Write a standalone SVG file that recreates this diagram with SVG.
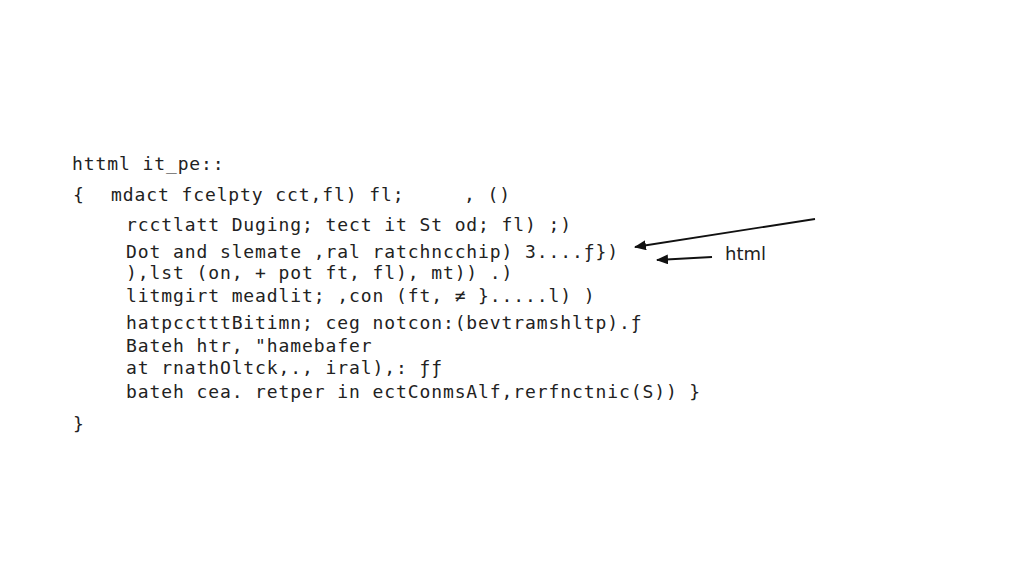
<svg xmlns="http://www.w3.org/2000/svg" width="1024" height="585" viewBox="0 0 1024 585">
<style>
.c{font-family:"DejaVu Sans Mono","Liberation Mono",monospace;font-size:18px;fill:#222;letter-spacing:0.9px}
.l{font-family:"DejaVu Sans","Liberation Sans",sans-serif;font-size:18px;fill:#222}
.a{stroke:#111;stroke-width:1.8;fill:none;marker-end:url(#ah)}
</style>
<defs><marker id="ah" markerWidth="12" markerHeight="10" refX="11" refY="5" orient="auto" markerUnits="userSpaceOnUse"><path d="M0,0 L12,5 L0,10 Z" fill="#111"/></marker></defs>
<rect width="1024" height="585" fill="#fff"/>
<g id="code">
<text class="c" x="72" y="170">httml it_pe::</text>
<text class="c" x="73" y="201">{</text>
<text class="c" x="111" y="201">mdact fcelpty cct,fl) fl;</text>
<text class="c" x="464" y="201">, ()</text>
<text class="c" x="126" y="231">rcctlatt Duging; tect it St od; fl)  ;)</text>
<text class="c" x="126" y="258">Dot and slemate ,ral ratchncchip)  3....ƒ})</text>
<text class="c" x="126" y="279">),lst (on, + pot ft, fl), mt))    .)</text>
<text class="c" x="126" y="302">litmgirt meadlit; ,con (ft,  ≠ }.....l) )</text>
<text class="c" x="126" y="329">hatpcctttBitimn; ceg notcon:(bevtramshltp).ƒ</text>
<text class="c" x="126" y="352">Bateh htr, "hamebafer</text>
<text class="c" x="126" y="374">at rnathOltck,., iral),:      ƒƒ</text>
<text class="c" x="126" y="398">bateh cea. retper in ectConmsAlf,rerfnctnic(S)) }</text>
<text class="c" x="73" y="430">}</text>
</g>
<g id="connectors">
<line class="a" x1="815" y1="219" x2="635" y2="247"/>
<line class="a" x1="712" y1="257" x2="657" y2="260"/>
</g>
<g id="label"><text class="l" x="725" y="260">html</text></g>
</svg>
